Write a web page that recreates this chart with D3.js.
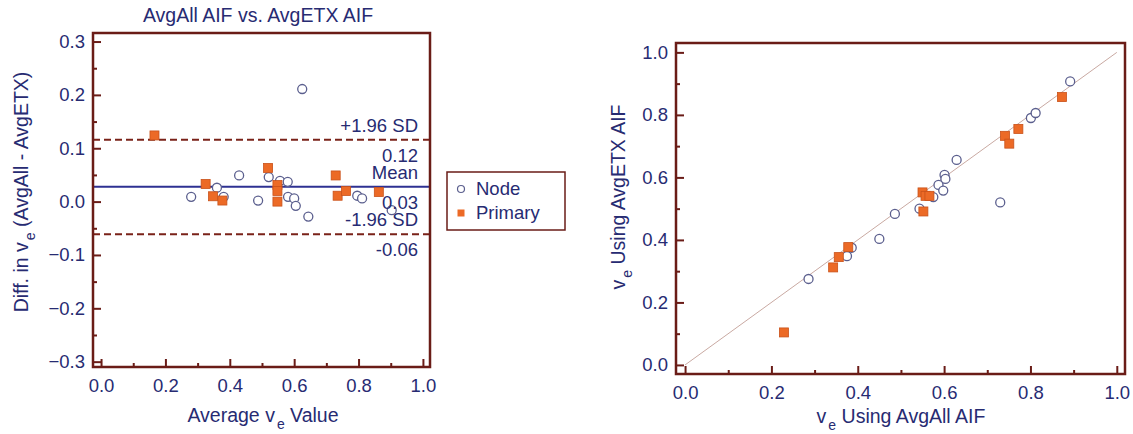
<!DOCTYPE html>
<html>
<head>
<meta charset="utf-8">
<script src="https://cdn.jsdelivr.net/npm/d3@7"></script>
<style>
  body { margin: 0; background: #fff; }
  svg { display: block; font-family: 'Liberation Sans', Arial, sans-serif; }
</style>
</head>
<body>
<div id="chart"></div>
<script>
// Bland-Altman panel: average ve vs. difference (AvgAll - AvgETX)
const nodeAvg  = [0.625, 0.429, 0.521, 0.556, 0.580, 0.360, 0.280, 0.381, 0.488, 0.581, 0.600, 0.605, 0.796, 0.811, 0.644, 0.903]
const nodeDiff = [0.211, 0.049, 0.046, 0.039, 0.037, 0.026, 0.009, 0.009, 0.002, 0.009, 0.006, -0.008, 0.011, 0.006, -0.028, -0.016]
const primAvg  = [0.166, 0.325, 0.348, 0.377, 0.519, 0.548, 0.548, 0.548, 0.729, 0.735, 0.761, 0.863]
const primDiff = [0.124, 0.033, 0.010, 0.002, 0.063, 0.031, 0.020, 0.000, 0.049, 0.011, 0.020, 0.018]

// reference lines: value, label above, label below
const refLines = [
  { name: 'upper', value: 0.116, above: '+1.96 SD', below: '0.12' },
  { name: 'mean',  value: 0.028, above: 'Mean',     below: '0.03' },
  { name: 'lower', value: -0.061, above: '-1.96 SD', below: '-0.06' }
]

// Scatter panel: ve using AvgAll AIF vs. ve using AvgETX AIF
const nodeAll  = [0.892, 0.801, 0.812, 0.629, 0.601, 0.603, 0.587, 0.598, 0.575, 0.730, 0.543, 0.486, 0.450, 0.386, 0.375, 0.286]
const nodeEtx  = [0.907, 0.790, 0.806, 0.656, 0.608, 0.595, 0.576, 0.558, 0.537, 0.520, 0.500, 0.483, 0.403, 0.375, 0.348, 0.275]
const primAll  = [0.873, 0.772, 0.741, 0.751, 0.550, 0.557, 0.566, 0.552, 0.378, 0.356, 0.343, 0.229]
const primEtx  = [0.857, 0.755, 0.733, 0.708, 0.552, 0.541, 0.541, 0.491, 0.377, 0.345, 0.312, 0.104]

const xMajor = [0, 0.2, 0.4, 0.6, 0.8, 1.0]
const xMinor = [0.1, 0.3, 0.5, 0.7, 0.9]
const diffMajor = [-0.3, -0.2, -0.1, 0.0, 0.1, 0.2, 0.3]
const diffMinor = [-0.25, -0.15, -0.05, 0.05, 0.15, 0.25]

const seriesNames = ['Node', 'Primary']

const navy = '#272b72'
const maroon = '#6a1c17'
const orange = '#ec6a26'
const circleStroke = '#5b5f8e'

const width = 1133, height = 434

const svg = d3.select('#chart').append('svg')
  .attr('width', width)
  .attr('height', height)

const fmt = d3.format('.1f')

function drawAxes(g, x, y, xMaj, xMin, yMaj, yMin) {
  let [x0, x1] = x.range()
  let [y0, y1] = y.range()

  g.append('g')
    .attr('transform', `translate(0,${y0})`)
    .call(d3.axisBottom(x).tickValues(xMin).tickSize(-4).tickFormat(''))
  g.append('g')
    .attr('transform', `translate(0,${y0})`)
    .call(d3.axisBottom(x).tickValues(xMaj).tickSize(-8).tickPadding(12).tickFormat(fmt))
  g.append('g')
    .attr('transform', `translate(${x0},0)`)
    .call(d3.axisLeft(y).tickValues(yMin).tickSize(-4).tickFormat(''))
  g.append('g')
    .attr('transform', `translate(${x0},0)`)
    .call(d3.axisLeft(y).tickValues(yMaj).tickSize(-8).tickPadding(8).tickFormat(fmt))

  g.selectAll('.domain').remove()
  g.selectAll('.tick line').attr('stroke', maroon).attr('stroke-width', 2)
  g.selectAll('.tick text')
    .attr('fill', navy)
    .attr('font-size', 18.5)
    .attr('font-family', "'Liberation Sans', Arial, sans-serif")

  // frame
  g.append('rect')
    .attr('x', x0)
    .attr('y', y1)
    .attr('width', x1 - x0)
    .attr('height', y0 - y1)
    .attr('fill', 'none')
    .attr('stroke', maroon)
    .attr('stroke-width', 2.5)
}

function drawPoints(g, x, y, xs, ys, kind) {
  let pts = xs.map((v, i) => [v, ys[i]])
  if (kind === 'circle') {
    g.selectAll(null)
      .data(pts)
      .enter()
      .append('circle')
      .attr('cx', d => x(d[0]))
      .attr('cy', d => y(d[1]))
      .attr('r', 4.5)
      .attr('fill', '#fff')
      .attr('stroke', circleStroke)
      .attr('stroke-width', 1.3)
  } else {
    g.selectAll(null)
      .data(pts)
      .enter()
      .append('rect')
      .attr('x', d => x(d[0]) - 4.5)
      .attr('y', d => y(d[1]) - 4.5)
      .attr('width', 9)
      .attr('height', 9)
      .attr('fill', orange)
      .attr('stroke', '#c9521a')
      .attr('stroke-width', 0.8)
  }
}

// label with subscript e after the leading "v"
function veLabel(text, before, after) {
  if (before) text.append('tspan').text(before)
  text.append('tspan').text('v')
  text.append('tspan').attr('dx', 2).attr('dy', 7).attr('font-size', 14).text('e')
  text.append('tspan').attr('dy', -7).text(after)
}

// ---------- left panel ----------
const xL = d3.scaleLinear().domain([-0.025, 1.022]).range([93, 430])
const yL = d3.scaleLinear().domain([-0.31, 0.316]).range([367, 33])

const left = svg.append('g')

refLines.forEach(function(r) {
  left.append('line')
    .attr('x1', xL.range()[0])
    .attr('x2', xL.range()[1])
    .attr('y1', yL(r.value))
    .attr('y2', yL(r.value))
    .attr('stroke', r.name === 'mean' ? '#2e3192' : '#7a2219')
    .attr('stroke-width', 2)
    .attr('stroke-dasharray', r.name === 'mean' ? null : '7,4')
})

drawPoints(left, xL, yL, nodeAvg, nodeDiff, 'circle')
drawPoints(left, xL, yL, primAvg, primDiff, 'square')

refLines.forEach(function(r) {
  left.append('text')
    .attr('x', 418)
    .attr('y', yL(r.value) - 8)
    .attr('text-anchor', 'end')
    .attr('font-size', 18.5)
    .attr('fill', navy)
    .text(r.above)
  left.append('text')
    .attr('x', 418)
    .attr('y', yL(r.value) + 22)
    .attr('text-anchor', 'end')
    .attr('font-size', 18.5)
    .attr('fill', navy)
    .text(r.below)
})

drawAxes(left, xL, yL, xMajor, xMinor, diffMajor, diffMinor)

left.append('text')
  .attr('x', 258)
  .attr('y', 22)
  .attr('text-anchor', 'middle')
  .attr('font-size', 19.5)
  .attr('fill', navy)
  .text('AvgAll AIF vs. AvgETX AIF')

veLabel(left.append('text')
  .attr('x', 263)
  .attr('y', 422)
  .attr('text-anchor', 'middle')
  .attr('font-size', 19.5)
  .attr('fill', navy), 'Average ', ' Value')

veLabel(left.append('text')
  .attr('transform', 'translate(28,192) rotate(-90)')
  .attr('text-anchor', 'middle')
  .attr('font-size', 19.5)
  .attr('fill', navy), 'Diff. in ', ' (AvgAll - AvgETX)')

// ---------- legend ----------
const legend = svg.append('g')
legend.append('rect')
  .attr('x', 447)
  .attr('y', 172)
  .attr('width', 118)
  .attr('height', 58)
  .attr('fill', '#fff')
  .attr('stroke', maroon)
  .attr('stroke-width', 1.5)

seriesNames.forEach(function(name, i) {
  let cy = 189 + i * 24
  if (i === 0) {
    legend.append('circle')
      .attr('cx', 461).attr('cy', cy).attr('r', 3.5)
      .attr('fill', '#fff').attr('stroke', circleStroke).attr('stroke-width', 1.2)
  } else {
    legend.append('rect')
      .attr('x', 457.5).attr('y', cy - 3.5).attr('width', 7).attr('height', 7)
      .attr('fill', orange)
  }
  legend.append('text')
    .attr('x', 476)
    .attr('y', cy + 6)
    .attr('font-size', 18.5)
    .attr('fill', navy)
    .text(name)
})

// ---------- right panel ----------
const xR = d3.scaleLinear().domain([-0.021, 1.019]).range([676, 1125])
const yR = d3.scaleLinear().domain([-0.029, 1.030]).range([374, 43])

const right = svg.append('g')

right.append('line')
  .attr('x1', xR(0))
  .attr('y1', yR(0))
  .attr('x2', xR(1))
  .attr('y2', yR(1))
  .attr('stroke', '#c9a9a2')
  .attr('stroke-width', 1)

drawPoints(right, xR, yR, nodeAll, nodeEtx, 'circle')
drawPoints(right, xR, yR, primAll, primEtx, 'square')

drawAxes(right, xR, yR, xMajor, xMinor, xMajor, xMinor)

veLabel(right.append('text')
  .attr('x', 901)
  .attr('y', 423)
  .attr('text-anchor', 'middle')
  .attr('font-size', 19.5)
  .attr('fill', navy), '', ' Using AvgAll AIF')

veLabel(right.append('text')
  .attr('transform', 'translate(625,197) rotate(-90)')
  .attr('text-anchor', 'middle')
  .attr('font-size', 19.5)
  .attr('fill', navy), '', ' Using AvgETX AIF')
</script>
</body>
</html>
